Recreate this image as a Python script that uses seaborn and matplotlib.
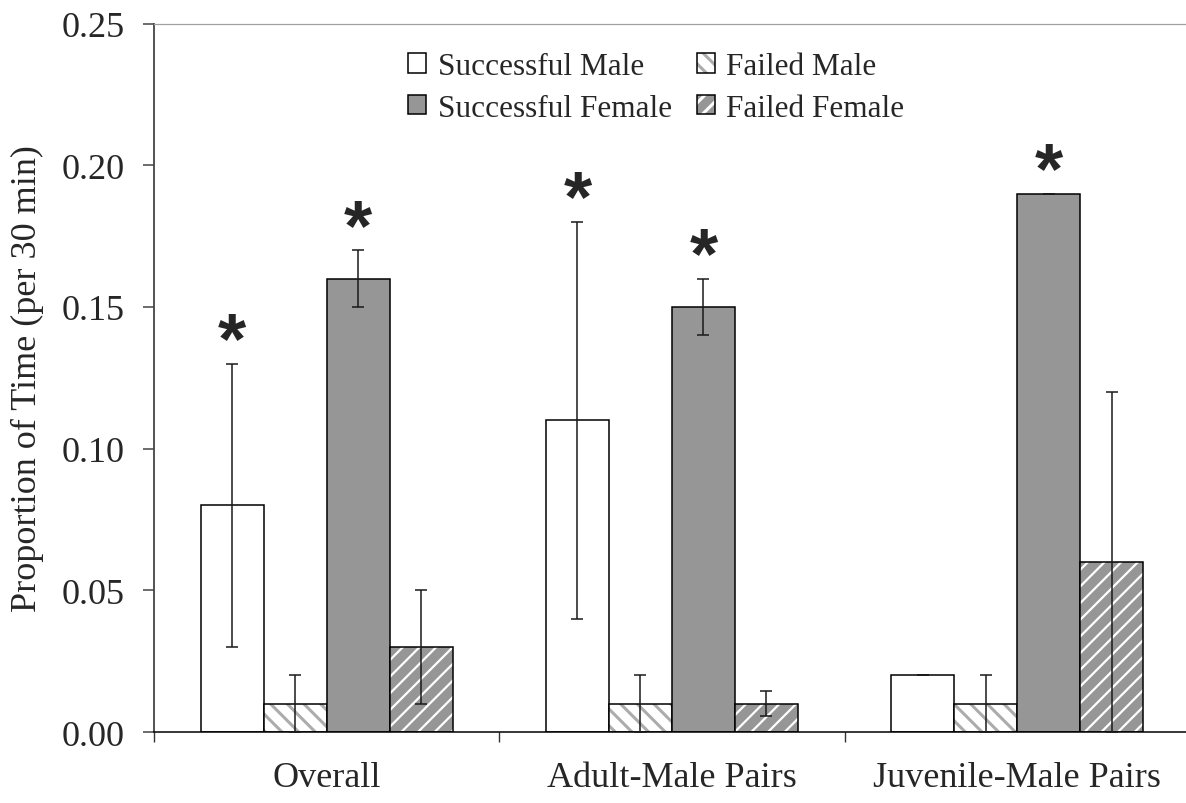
import matplotlib
matplotlib.use("Agg")
import matplotlib.pyplot as plt
from matplotlib.patches import Patch
from matplotlib.colors import to_rgba
import numpy as np
import pandas as pd
import seaborn as sns

# ---- data -------------------------------------------------------------
groups = ["Overall", "Adult-Male Pairs", "Juvenile-Male Pairs"]
series = ["Successful Male", "Failed Male", "Successful Female", "Failed Female"]

successful_male = [0.08, 0.11, 0.02]
failed_male = [0.01, 0.01, 0.01]
successful_female = [0.16, 0.15, 0.19]
failed_female = [0.03, 0.01, 0.06]

# standard errors (symmetric)
successful_male_err = [0.05, 0.07, 0.0]
failed_male_err = [0.01, 0.01, 0.01]
successful_female_err = [0.01, 0.01, 0.0]
failed_female_err = [0.02, 0.0045, 0.06]

# significant differences flagged with an asterisk
successful_male_sig = [True, True, False]
successful_female_sig = [True, True, True]

y_ticks = [0.00, 0.05, 0.10, 0.15, 0.20, 0.25]

values = [successful_male, failed_male, successful_female, failed_female]
errors = [successful_male_err, failed_male_err, successful_female_err, failed_female_err]
sigs = [successful_male_sig, [False] * 3, successful_female_sig, [False] * 3]

df = pd.DataFrame(
    [(g, s, v) for s, vals in zip(series, values) for g, v in zip(groups, vals)],
    columns=["group", "series", "value"],
)

# ---- styling ----------------------------------------------------------
sns.set_style("white")
plt.rcParams["font.family"] = ["Liberation Serif", "DejaVu Serif"]
plt.rcParams["hatch.linewidth"] = 2.2

GREY = "#969696"
face = {"Successful Male": "white", "Failed Male": "white",
        "Successful Female": GREY, "Failed Female": GREY}
hatch = {"Successful Male": None, "Failed Male": "\\\\",
         "Successful Female": None, "Failed Female": "//"}
hatch_col = {"Failed Male": "#acacac", "Failed Female": "white"}
hatch_lw = {"Failed Male": 2.2, "Failed Female": 1.6}


def style_patch(p, name):
    p.set_facecolor(face[name])
    p.set_edgecolor("black")
    p.set_linewidth(1.1)
    if hatch[name]:
        p.set_hatch(hatch[name])
        if hasattr(p, "set_hatchcolor"):
            p.set_hatchcolor(hatch_col[name])
        else:
            p._hatch_color = to_rgba(hatch_col[name])
        if hasattr(p, "set_hatch_linewidth"):
            p.set_hatch_linewidth(hatch_lw[name])


fig = plt.figure(figsize=(11.86, 8.04), dpi=100)
ax = fig.add_axes([0.1298, 0.0883, 0.8735, 0.8812])

sns.barplot(data=df, x="group", y="value", hue="series", order=groups,
            hue_order=series, width=0.73, errorbar=None, legend=False, ax=ax)

for name, cont, vals, errs, sg in zip(series, ax.containers, values, errors, sigs):
    xs = []
    for bar in cont:
        style_patch(bar, name)
        xs.append(bar.get_x() + bar.get_width() / 2)
    ax.errorbar(xs, vals, yerr=errs, fmt="none", ecolor="#1a1a1a",
                elinewidth=1.1, capsize=4, capthick=1.1, zorder=5)
    for x, v, e, s in zip(xs, vals, errs, sg):
        if s:
            ax.annotate("*", (x, v + e), xytext=(0, 1), textcoords="offset points",
                        ha="center", va="baseline", fontsize=52,
                        fontweight="bold", family=["Liberation Sans", "DejaVu Sans"])

# ---- axes -------------------------------------------------------------
ax.set_ylim(0, 0.25)
ax.set_xlim(-0.5, 2.5)
ax.set_yticks(y_ticks)
ax.set_yticklabels([f"{t:.2f}" for t in y_ticks])
ax.set_xlabel("")
ax.set_ylabel("Proportion of Time (per 30 min)", fontsize=26, labelpad=13)

ax.tick_params(axis="y", which="major", direction="out", length=8, width=1.1,
               color="#444444", pad=13, labelsize=26, left=True)
ax.tick_params(axis="x", which="major", length=0, pad=21, labelsize=26)
ax.set_xticks([-0.5, 0.5, 1.5, 2.5], minor=True)
ax.tick_params(axis="x", which="minor", direction="out", length=7.5, width=1.0,
               color="#333333", bottom=True)

ax.spines["right"].set_visible(False)
ax.spines["top"].set_color("#a0a0a0")
ax.spines["top"].set_linewidth(0.9)
ax.spines["left"].set_color("#444444")
ax.spines["left"].set_linewidth(1.3)
ax.spines["bottom"].set_color("black")
ax.spines["bottom"].set_linewidth(1.1)

# ---- legend (two columns: successful | failed) --------------------------
legend_order = ["Successful Male", "Successful Female", "Failed Male", "Failed Female"]
handles = []
for name in legend_order:
    h = Patch(label=name)
    style_patch(h, name)
    handles.append(h)
ax.legend(handles=handles, ncol=2, frameon=False, fontsize=22.5,
          loc="upper left", bbox_to_anchor=(0.344, 0.934),
          bbox_transform=fig.transFigure, borderpad=0, borderaxespad=0,
          handlelength=0.58, handleheight=0.58, handletextpad=0.37,
          columnspacing=0.8, labelspacing=0.4)

fig.savefig("out.png", dpi=100)
